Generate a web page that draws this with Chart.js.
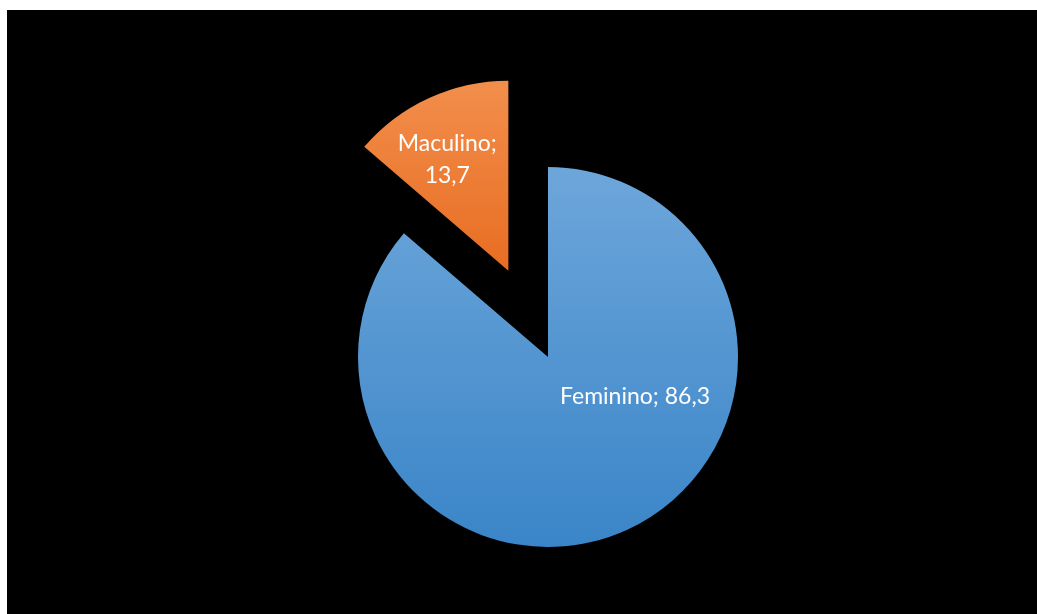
<!DOCTYPE html>
<html>
<head>
<meta charset="utf-8">
<script src="https://cdn.jsdelivr.net/npm/chart.js@4/dist/chart.umd.min.js"></script>
<style>
  html, body { margin: 0; padding: 0; background: #ffffff; overflow: hidden; }
  body { width: 1037px; height: 614px; position: relative; }
  #wrap { position: absolute; left: 7px; top: 10px; width: 1030px; height: 604px; background: #000000; }
  canvas { display: block; }
</style>
</head>
<body>
<div id="wrap"><canvas id="pie" width="1030" height="604"></canvas></div>
<script>
// Sexo dos respondentes (%)
const categories = ['Feminino', 'Maculino'];
const values = [86.3, 13.7];
const valueLabels = ['86,3', '13,7'];

// Slice styling
const gradientStops = [
  ['#6da6da', '#3a85c8'],
  ['#f28e4c', '#e86d22']
];
const explodeBy = [0, 95];            // pixels the slice is pulled out
const labelLines = [
  [categories[0] + '; ' + valueLabels[0]],
  [categories[1] + ';', valueLabels[1]]
];
const labelAnchor = [                  // [angle in degrees, fraction of radius]
  [24.7, 0.504],
  [241.2, 0.667]
];
const PIE_RADIUS = 190;

const explodePlugin = {
  id: 'explodeSlices',
  afterDatasetsUpdate(chart) {
    const meta = chart.getDatasetMeta(0);
    const ctx = chart.ctx;
    meta.data.forEach((arc, i) => {
      const mid = (arc.startAngle + arc.endAngle) / 2;
      arc.x += Math.cos(mid) * explodeBy[i];
      arc.y += Math.sin(mid) * explodeBy[i];
      const top = arc.y - arc.outerRadius;
      const bottom = explodeBy[i] ? arc.y : arc.y + arc.outerRadius;
      const g = ctx.createLinearGradient(0, top, 0, bottom);
      g.addColorStop(0, gradientStops[i][0]);
      g.addColorStop(1, gradientStops[i][1]);
      arc.options.backgroundColor = g;
    });
  }
};

const labelPlugin = {
  id: 'sliceLabels',
  afterDatasetsDraw(chart) {
    const meta = chart.getDatasetMeta(0);
    const ctx = chart.ctx;
    ctx.save();
    ctx.fillStyle = '#ffffff';
    ctx.font = '23px Lato, "Open Sans", sans-serif';
    ctx.textAlign = 'center';
    ctx.textBaseline = 'middle';
    const lineH = 31.5;
    meta.data.forEach((arc, i) => {
      const a = labelAnchor[i][0] * Math.PI / 180;
      const r = labelAnchor[i][1] * arc.outerRadius;
      const cx = arc.x + Math.cos(a) * r;
      const cy = arc.y + Math.sin(a) * r;
      const lines = labelLines[i];
      const y0 = cy - (lines.length - 1) * lineH / 2;
      lines.forEach((t, k) => ctx.fillText(t, cx, y0 + k * lineH));
    });
    ctx.restore();
  }
};

new Chart(document.getElementById('pie'), {
  type: 'pie',
  data: {
    labels: categories,
    datasets: [{
      data: values,
      backgroundColor: gradientStops.map(s => s[1]),
      borderWidth: 0
    }]
  },
  options: {
    responsive: false,
    animation: false,
    events: [],
    radius: PIE_RADIUS,
    layout: { padding: { left: 52, right: 0, top: 90, bottom: 0 } },
    plugins: {
      legend: { display: false },
      tooltip: { enabled: false },
      title: { display: false }
    }
  },
  plugins: [explodePlugin, labelPlugin]
});
</script>
</body>
</html>
